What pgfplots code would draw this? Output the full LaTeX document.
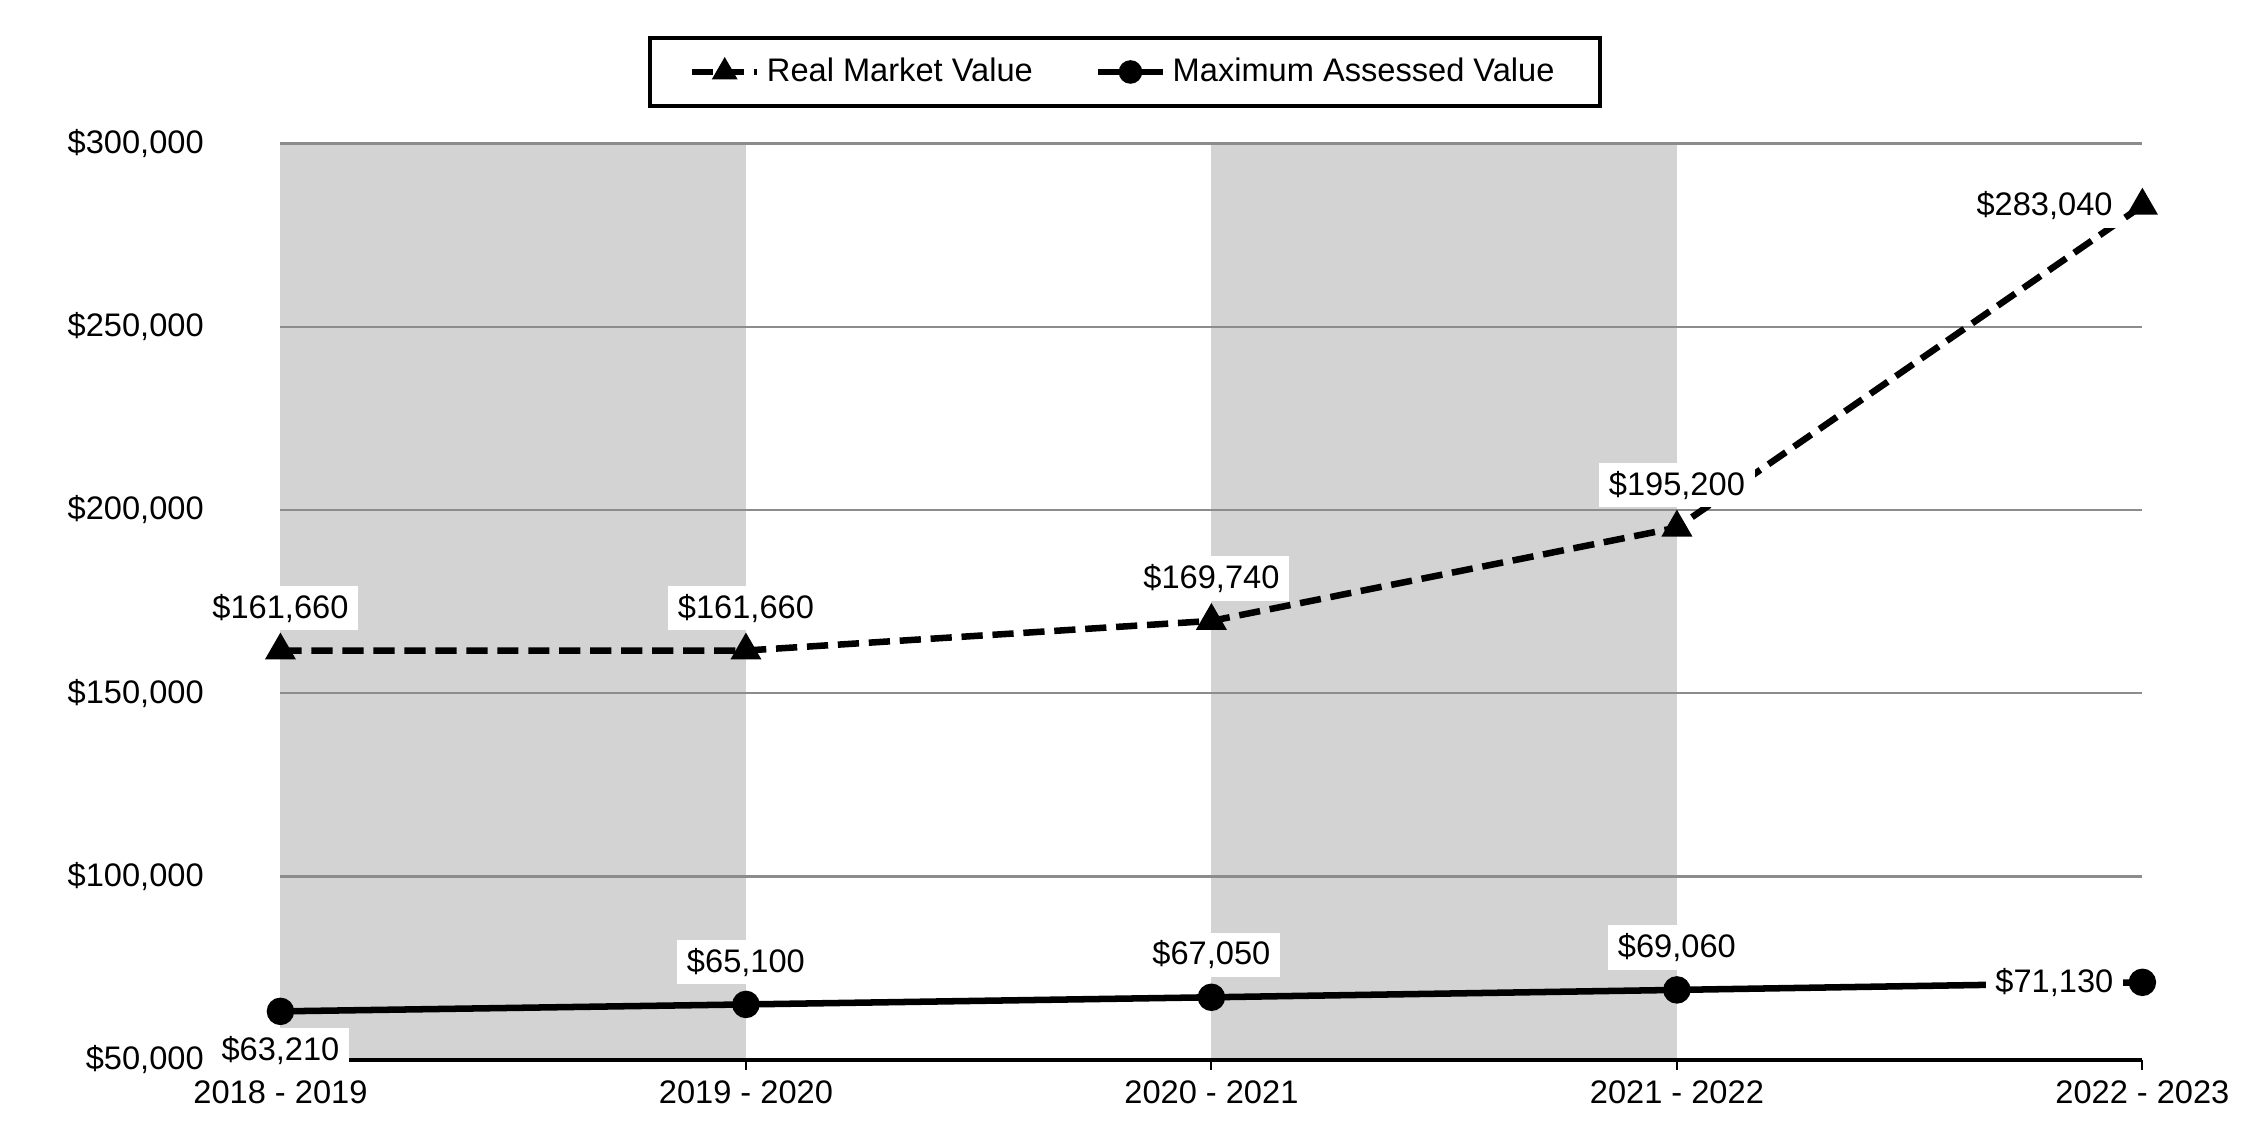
\documentclass[border=0pt]{standalone}
\usepackage{fontspec}
\setmainfont{Liberation Sans}
\usepackage{pgfplots}
\usepackage{pgfplotstable}
\pgfplotsset{compat=1.18}

\definecolor{band}{RGB}{211,211,211}
\definecolor{gridgray}{RGB}{140,140,140}

% value, label offset (pt)
\pgfplotstableread{
x y dx dy
0 161660 0 13
1 161660 0 13
2 169740 0 13
3 195200 0 13
4 283040 -30 0
}\rmv
\pgfplotstableread{
x y dx dy
0 63210 0 -12
1 65100 0 13
2 67050 0 13
3 69060 0 13
4 71130 -27 0
}\mav

\pgfplotsset{vlabels/.style={
    point meta=y,
    nodes near coords={\$\pgfmathprintnumber{\pgfplotspointmeta}},
    visualization depends on={\thisrow{dx} \as \dx},
    visualization depends on={\thisrow{dy} \as \dy},
    nodes near coords style={anchor=center, xshift=\dx pt, yshift=\dy pt,
        text=black, fill=white, inner xsep=3pt, inner ysep=2.5pt, solid},
}}

\begin{document}
\begin{tikzpicture}
\begin{axis}[
    set layers,
    scale only axis,
    width=571pt, height=281pt,
    xmin=0, xmax=4,
    ymin=50000, ymax=300000,
    clip=false,
    axis x line*=bottom,
    axis y line*=left,
    y axis line style={draw=none},
    x axis line style={line width=1.1pt},
    xtick={0,1,2,3,4},
    xticklabels={2018 - 2019, 2019 - 2020, 2020 - 2021, 2021 - 2022, 2022 - 2023},
    ytick={50000,100000,150000,200000,250000,300000},
    scaled y ticks=false,
    /pgf/number format/.cd, fixed, precision=0, 1000 sep={,}, assume math mode=true,
    /pgfplots/.cd,
    yticklabel={\$\pgfmathprintnumber{\tick}},
    yticklabel style={xshift=-17pt},
    ytick style={draw=none},
    xtick style={black, line width=0.6pt},
    tick align=outside,
    major tick length=3pt,
    ymajorgrids,
    grid style={gridgray, line width=0.7pt},
    legend columns=2,
    legend style={at={(0.4536,1.078)}, anchor=center, draw=black, line width=1.2pt,
        inner xsep=12pt, inner ysep=4pt,
        /tikz/every even column/.append style={column sep=17pt}},
    legend image code/.code={
        \draw[mark repeat=2, mark phase=2, mark size=2.6pt] plot coordinates {(0cm,0cm) (0.35cm,0cm) (0.7cm,0cm)};
    },
]

% shaded bands
\addplot[forget plot, on layer=axis background, fill=band, draw=none]
    coordinates {(0,50000) (1,50000) (1,300000) (0,300000)} -- cycle;
\addplot[forget plot, on layer=axis background, fill=band, draw=none]
    coordinates {(2,50000) (3,50000) (3,300000) (2,300000)} -- cycle;

\addplot[black, line width=2pt, dash pattern=on 6.5pt off 3pt,
    mark=triangle*, mark size=3.5pt, mark options={solid}, vlabels]
    table[x=x, y=y] {\rmv};
\addlegendentry{Real Market Value}

\addplot[black, line width=2pt, mark=*, mark size=3.2pt, vlabels]
    table[x=x, y=y] {\mav};
\addlegendentry{Maximum Assessed Value}

\end{axis}
\pgfresetboundingbox
\path ([shift={(-86pt,-25pt)}]current axis.south west) rectangle ([shift={(33pt,44pt)}]current axis.north east);
\end{tikzpicture}
\end{document}
